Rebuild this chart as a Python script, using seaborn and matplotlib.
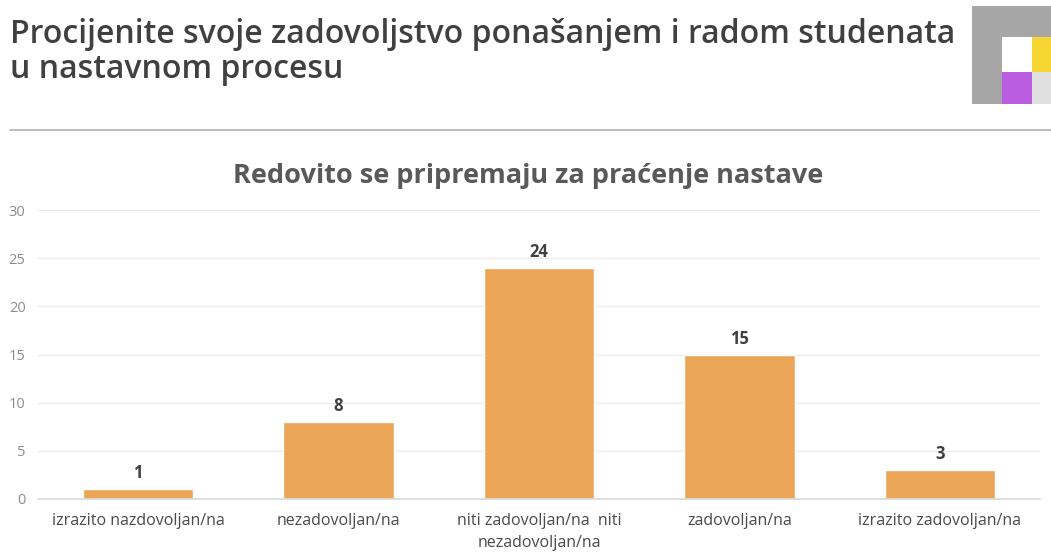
import matplotlib
matplotlib.use("Agg")
import matplotlib.pyplot as plt
import matplotlib.patches as mpatches
import seaborn as sns
import pandas as pd

# data
categories = ["izrazito nazdovoljan/na", "nezadovoljan/na",
              "niti zadovoljan/na  niti\nnezadovoljan/na",
              "zadovoljan/na", "izrazito zadovoljan/na"]
counts = [1, 8, 24, 15, 3]
yticks = [0, 5, 10, 15, 20, 25, 30]

main_title = "Procijenite svoje zadovoljstvo ponašanjem i radom studenata\nu nastavnom procesu"
chart_title = "Redovito se pripremaju za praćenje nastave"

df = pd.DataFrame({"kategorija": categories, "broj": counts})

sns.set_theme(style="white")
plt.rcParams["font.family"] = ["Open Sans", "DejaVu Sans"]

fig = plt.figure(figsize=(10.51, 5.54), dpi=100)
fig.patch.set_facecolor("white")

# page header (baseline of the last line)
fig.text(10 / 1051, 1 - 78 / 554, main_title, fontsize=23, color="#404040",
         ha="left", va="baseline", linespacing=1.08, fontweight="semibold")
fig.add_artist(plt.Line2D([10 / 1051, 1], [1 - 130 / 554] * 2, color="#bfbfbf", lw=1.5))

# little logo in the corner
def box(x0, y0, x1, y1, c):
    fig.add_artist(mpatches.Rectangle((x0 / 1051, 1 - y1 / 554), (x1 - x0) / 1051,
                                      (y1 - y0) / 554, transform=fig.transFigure,
                                      color=c, lw=0))
box(972, 6, 1051, 104, "#a6a6a6")
box(1002, 37, 1032, 72, "#ffffff")
box(1032, 37, 1051, 72, "#f5d531")
box(1002, 72, 1032, 104, "#b95ee0")
box(1032, 72, 1051, 104, "#e0e0e0")

# the chart itself
ax = fig.add_axes([38 / 1051, 1 - 499 / 554, (1040 - 38) / 1051, (499 - 210) / 554])
sns.barplot(data=df, x="kategorija", y="broj", color="#eaa556", width=0.55,
            saturation=1, ax=ax)
ax.bar_label(ax.containers[0], padding=5, fontsize=12, fontweight="bold", color="#404040")

ax.set_ylim(0, 30)
ax.set_yticks(yticks)
ax.set_xlim(-0.5, 4.5)
ax.yaxis.grid(True, color="#ececec", lw=1)
ax.set_axisbelow(True)
for s in ["top", "right", "left"]:
    ax.spines[s].set_visible(False)
ax.spines["bottom"].set_color("#d9d9d9")
ax.tick_params(axis="y", labelsize=10.5, labelcolor="#8c8c8c", length=0, pad=9)
ax.tick_params(axis="x", labelsize=11.5, labelcolor="#4a4a4a", length=0, pad=10)
for lab in ax.get_xticklabels():
    lab.set_linespacing(1.5)
ax.set_xlabel("")
ax.set_ylabel("")

fig.text(528 / 1051, 1 - 183 / 554, chart_title, fontsize=19.5, fontweight="bold",
         color="#595959", ha="center", va="baseline")

fig.savefig("out.png", dpi=100, facecolor="white")
